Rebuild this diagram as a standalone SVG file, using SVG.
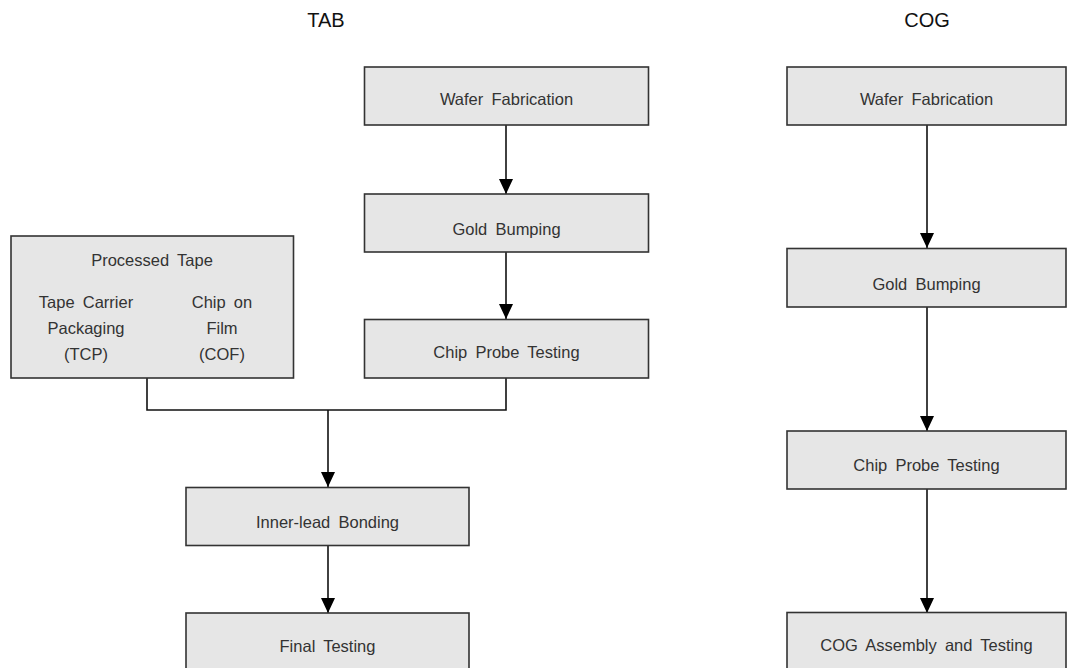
<svg xmlns="http://www.w3.org/2000/svg" width="1067" height="668" viewBox="0 0 1067 668">
<defs>
<style>
.box{fill:#e6e6e6;stroke:#333;stroke-width:1.6}
.t{font-family:"Liberation Sans",Arial,sans-serif;font-size:16.5px;fill:#333;text-anchor:middle;word-spacing:3.6px}
.h{font-family:"Liberation Sans",Arial,sans-serif;font-size:20px;fill:#111;text-anchor:middle}
.c{fill:none;stroke:#111;stroke-width:1.6}
</style>
<marker id="ah" markerUnits="userSpaceOnUse" markerWidth="16" markerHeight="16" refX="15" refY="7" orient="auto" viewBox="0 0 16 14">
<path d="M0,0 L15,7 L0,14 z" fill="#000"/>
</marker>
</defs>
<rect width="1067" height="668" fill="#fff"/>
<text class="h" x="326" y="27">TAB</text>
<text class="h" x="927" y="27">COG</text>
<g id="connectors">
<line class="c" x1="506" y1="125" x2="506" y2="194" marker-end="url(#ah)"/>
<line class="c" x1="506" y1="252" x2="506" y2="319" marker-end="url(#ah)"/>
<polyline class="c" points="147,378 147,410 506,410 506,378"/>
<line class="c" x1="328" y1="410" x2="328" y2="487" marker-end="url(#ah)"/>
<line class="c" x1="328" y1="546" x2="328" y2="613" marker-end="url(#ah)"/>
<line class="c" x1="927" y1="125" x2="927" y2="248" marker-end="url(#ah)"/>
<line class="c" x1="927" y1="307" x2="927" y2="431" marker-end="url(#ah)"/>
<line class="c" x1="927" y1="489" x2="927" y2="613" marker-end="url(#ah)"/>
</g>
<g id="tab-wafer"><rect class="box" x="364.5" y="67" width="284" height="58"/><text class="t" x="506.5" y="105">Wafer Fabrication</text></g>
<g id="tab-gold"><rect class="box" x="364.5" y="194" width="284" height="58"/><text class="t" x="506.5" y="235">Gold Bumping</text></g>
<g id="tab-probe"><rect class="box" x="364.5" y="319.5" width="284" height="58.5"/><text class="t" x="506.5" y="358">Chip Probe Testing</text></g>
<g id="processed-tape"><rect class="box" x="11" y="236" width="282.5" height="142"/>
<text class="t" x="152" y="266">Processed Tape</text>
<text class="t" x="86" y="308">Tape Carrier</text>
<text class="t" x="86" y="334">Packaging</text>
<text class="t" x="86" y="360">(TCP)</text>
<text class="t" x="222" y="308">Chip on</text>
<text class="t" x="222" y="334">Film</text>
<text class="t" x="222" y="360">(COF)</text>
</g>
<g id="inner-lead"><rect class="box" x="186" y="487.5" width="283" height="58"/><text class="t" x="327.5" y="528">Inner-lead Bonding</text></g>
<g id="final-testing"><rect class="box" x="186" y="613" width="283" height="58"/><text class="t" x="327.5" y="652">Final Testing</text></g>
<g id="cog-wafer"><rect class="box" x="787" y="67" width="279" height="58"/><text class="t" x="926.5" y="105">Wafer Fabrication</text></g>
<g id="cog-gold"><rect class="box" x="787" y="248.5" width="279" height="58.5"/><text class="t" x="926.5" y="290">Gold Bumping</text></g>
<g id="cog-probe"><rect class="box" x="787" y="431" width="279" height="58"/><text class="t" x="926.5" y="471">Chip Probe Testing</text></g>
<g id="cog-assembly"><rect class="box" x="787" y="612.5" width="279" height="58"/><text class="t" x="926.5" y="651">COG Assembly and Testing</text></g>
</svg>
